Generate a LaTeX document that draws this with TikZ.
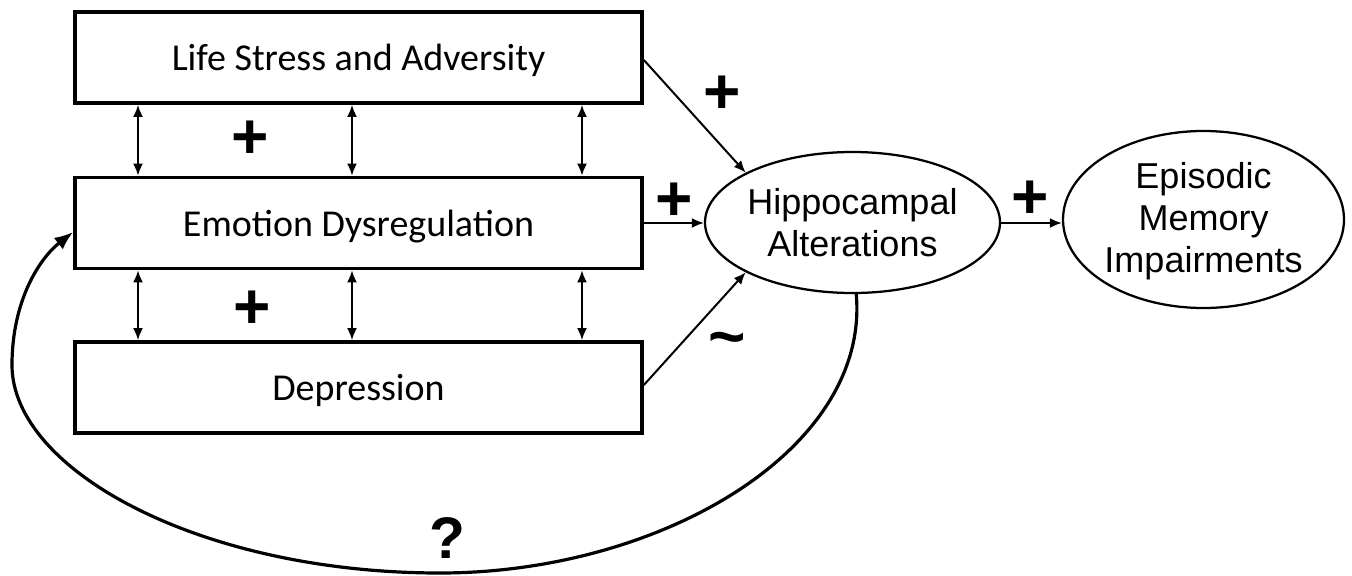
\documentclass[tikz,border=0pt]{standalone}
\usepackage{fontspec}
\setmainfont{Liberation Sans}
\newfontfamily\boxfont{Carlito}
\usetikzlibrary{arrows.meta,shapes.geometric}

\tikzset{
  factor/.style={draw, line width=2.8pt, minimum width=567*0.75pt, minimum height=91*0.75pt, inner sep=0pt, text depth=0pt, font=\boxfont\fontsize{28.5}{32}\selectfont},
  outcome/.style={draw, ellipse, line width=1.7pt, inner sep=0pt},
  outtext/.style={align=center, inner sep=0pt, font=\fontsize{27}{31.5}\selectfont},
  sign/.style={font=\bfseries\fontsize{48}{48}\selectfont}
}

\begin{document}
\begin{tikzpicture}[x=0.75pt, y=-0.75pt, >={Latex[length=9pt,width=7.5pt]}]
\useasboundingbox (0,0) rectangle (1352,575);

\node[factor] (life) at (358.5,57.5) {Life Stress and Adversity};
\node[factor] (emo) at (358.5,223) {Emotion Dysregulation};
\node[factor] (dep) at (358.5,387.5) {Depression};

\node[outcome, minimum width=295*0.75pt, minimum height=141*0.75pt] (hippo) at (852.5,222.5) {};
\node[outtext] (hippotext) at (hippo) {Hippocampal\\Alterations};
\node[outcome, minimum width=281*0.75pt, minimum height=177*0.75pt] (memory) at (1203.5,219.5) {};
\node[outtext] (memorytext) at (1203.5,221) {Episodic\\Memory\\Impairments};

% links between the three boxes
\foreach \x in {138,352,582} {
  \draw[line width=1.5pt, <->] (life.south -| \x,0) -- (emo.north -| \x,0);
  \draw[line width=1.5pt, <->] (emo.south -| \x,0) -- (dep.north -| \x,0);
}

\draw[line width=1.5pt, ->] (life.north east |- 0,60) -- (hippo.155);
\draw[line width=1.5pt, ->] (emo.east) -- (hippo.west |- emo.east);
\draw[line width=1.5pt, ->] (dep.north east |- 0,385) -- (hippo.205);
\draw[line width=1.5pt, ->] (hippo.east |- emo.east) -- (memory.west |- emo.east);

% feedback loop
\draw[line width=2.4pt, -{Latex[length=14pt,width=11pt]}] (hippo.273) .. controls (870,450) and (660,573) .. (440,573)
  .. controls (200,573) and (12,470) .. (12,365)
  .. controls (12,300) and (40,258) .. (emo.west |- 0,232);

\node[sign] (p1) at (250,140) {+};
\node[sign] (p2) at (252,310) {+};
\node[sign] (p3) at (674,202) {+};
\node[sign] (p4) at (722,95) {+};
\node[sign] (p5) at (1030,200) {+};
\node[sign] (tilde) at (727,345) {\char`\~};
\node[font=\bfseries\fontsize{44}{44}\selectfont] (q) at (447,538) {?};

\end{tikzpicture}
\end{document}
